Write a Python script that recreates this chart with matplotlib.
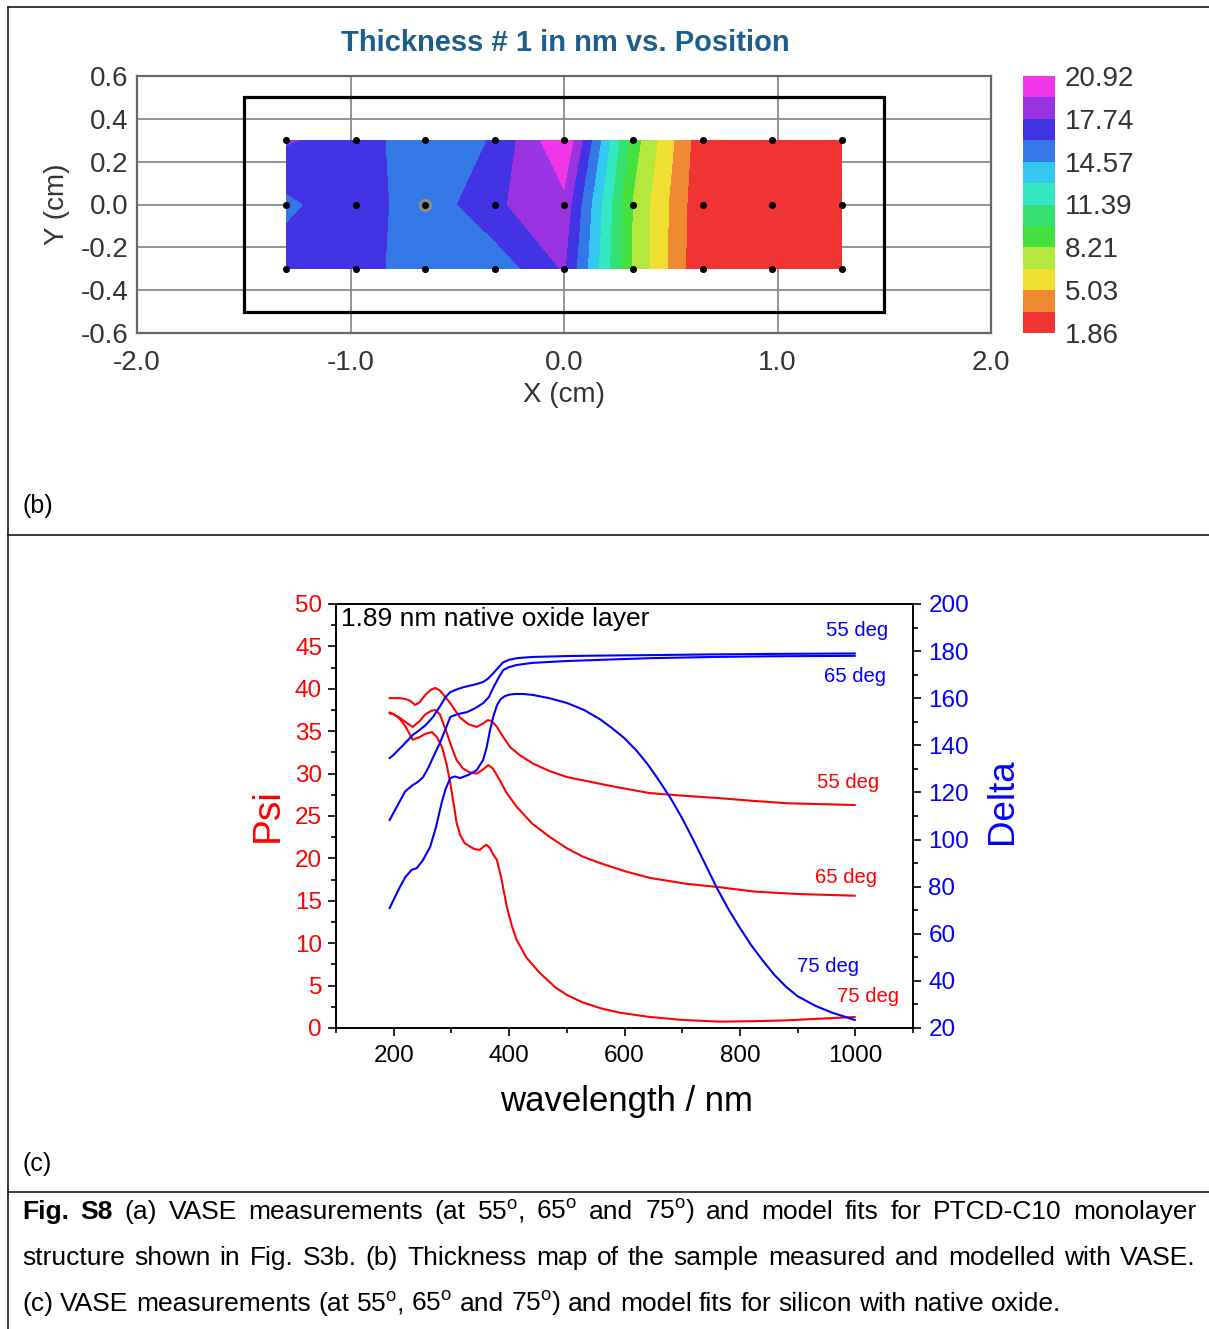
import matplotlib
matplotlib.use("Agg")
import matplotlib.pyplot as plt
import numpy as np
from matplotlib.lines import Line2D
from matplotlib.patches import Rectangle
from matplotlib.ticker import FormatStrFormatter

plt.rcParams['font.family'] = ['Liberation Sans', 'DejaVu Sans']
plt.rcParams['axes.unicode_minus'] = False
plt.rcParams['mathtext.fontset'] = 'custom'
plt.rcParams['mathtext.rm'] = 'Liberation Sans'
plt.rcParams['mathtext.it'] = 'Liberation Sans:italic'
plt.rcParams['mathtext.bf'] = 'Liberation Sans:bold'

W, H = 1209, 1329

# ---- (b) thickness map: 9 x 3 measurement grid (cm), thickness in nm ----
map_x = [-1.3, -0.975, -0.65, -0.325, 0.0, 0.325, 0.65, 0.975, 1.3]
map_y = [-0.3, 0.0, 0.3]
thick_bot = [17.0, 17.0, 15.0, 15.1, 17.9, 8.0, 1.95, 2.0, 2.0]
thick_mid = [15.8, 17.2, 15.0, 17.5, 18.8, 8.0, 2.1, 2.0, 2.0]
thick_top = [17.9, 17.0, 15.0, 16.3, 20.9, 8.9, 2.3, 2.0, 2.0]
sel_col, sel_row = 2, 1
levels = [1.86, 3.45, 5.03, 6.62, 8.21, 9.80, 11.39, 12.98, 14.57, 16.16, 17.74, 19.33, 20.92]
level_colors = ['#f03434', '#f08a32', '#f0e032', '#b4e83c', '#44e040', '#34e070',
                '#34e8c4', '#34c8f0', '#3478e8', '#4234e4', '#9a34e2', '#f036e8']
cbar_ticks = [1.86, 5.03, 8.21, 11.39, 14.57, 17.74, 20.92]
cbar_labels = ['1.86', '5.03', '8.21', '11.39', '14.57', '17.74', '20.92']
map_xticks = [-2.0, -1.0, 0.0, 1.0, 2.0]
map_yticks = [-0.6, -0.4, -0.2, 0.0, 0.2, 0.4, 0.6]

# ---- (c) VASE on Si with native oxide ----
wl_psi55 = [193, 200, 210, 220, 228, 237, 245, 255, 265, 272, 280, 290, 298, 315, 330, 344, 355,
            363, 370, 379, 390, 402, 420, 441, 470, 500, 550, 587, 644, 700, 765, 820, 882, 940, 999]
psi55 = [38.9, 38.9, 38.9, 38.8, 38.6, 38.1, 38.4, 39.3, 39.9, 40.1, 39.8, 39.0, 38.3, 36.6, 35.8,
         35.5, 35.9, 36.3, 36.2, 35.5, 34.3, 33.1, 32.1, 31.2, 30.3, 29.6, 28.9, 28.4, 27.7, 27.4,
         27.1, 26.8, 26.5, 26.4, 26.3]
wl_psi65 = [193, 200, 210, 220, 233, 245, 255, 265, 272, 280, 292, 300, 309, 320, 333, 344, 355, 364,
            372, 384, 395, 413, 440, 471, 500, 528, 560, 600, 644, 708, 765, 823, 900, 999]
psi65 = [37.1, 37.0, 36.6, 36.1, 35.5, 36.2, 37.0, 37.4, 37.5, 37.0, 34.8, 33.2, 31.6, 30.6, 30.1,
         30.0, 30.5, 31.0, 30.6, 29.2, 27.8, 26.1, 24.1, 22.5, 21.2, 20.2, 19.4, 18.5, 17.7, 17.0,
         16.6, 16.1, 15.8, 15.6]
wl_psi75 = [193, 200, 210, 220, 233, 245, 255, 266, 275, 284, 292, 298, 305, 309, 315, 323, 332, 340,
            349, 356, 361, 367, 372, 379, 387, 396, 405, 413, 430, 453, 480, 500, 528, 560, 592, 644,
            700, 765, 820, 881, 940, 999]
psi75 = [37.2, 37.0, 36.5, 35.6, 34.0, 34.3, 34.7, 34.9, 34.3, 33.1, 31.0, 28.9, 26.0, 24.2, 22.8,
         21.8, 21.4, 21.1, 21.0, 21.4, 21.6, 21.2, 20.5, 19.8, 17.5, 14.3, 12.0, 10.4, 8.3, 6.5, 4.8,
         3.9, 3.0, 2.3, 1.8, 1.3, 0.95, 0.75, 0.8, 0.9, 1.1, 1.3]
wl_del55 = [193, 200, 210, 220, 233, 245, 255, 268, 280, 290, 298, 310, 321, 335, 345, 355, 363, 373,
            382, 390, 400, 413, 440, 500, 560, 644, 750, 850, 999]
del55 = [134.6, 136.0, 138.5, 141.0, 144.4, 146.5, 148.5, 152.0, 156.5, 160.5, 162.6, 163.8, 164.7,
         165.5, 166.1, 166.9, 168.2, 170.7, 173.2, 175.3, 176.3, 177.0, 177.5, 177.9, 178.1, 178.3,
         178.6, 178.8, 179.0]
wl_del65 = [193, 200, 210, 220, 233, 242, 251, 260, 270, 280, 290, 298, 310, 327, 340, 355, 365, 373,
            382, 390, 400, 413, 440, 500, 560, 644, 750, 850, 999]
del65 = [108.3, 111.5, 116.0, 120.5, 123.1, 124.5, 126.5, 130.5, 135.8, 141.0, 147.0, 152.0, 153.2,
         154.1, 155.6, 157.9, 160.5, 164.7, 168.8, 172.0, 173.2, 174.1, 175.0, 175.8, 176.3, 177.0,
         177.5, 177.8, 178.0]
wl_del75 = [193, 200, 210, 220, 231, 240, 250, 263, 273, 283, 290, 298, 306, 315, 330, 344, 355, 361,
            367, 373, 379, 385, 392, 400, 410, 425, 441, 470, 500, 530, 558, 580, 600, 620, 640, 660,
            680, 700, 720, 740, 760, 780, 800, 820, 840, 860, 880, 900, 930, 960, 999]
del75 = [70.9, 74.5, 79.5, 84.0, 87.1, 87.9, 91.0, 96.8, 105.0, 115.5, 121.5, 126.1, 126.8, 126.1,
         127.5, 129.5, 133.8, 139.0, 146.5, 152.5, 157.0, 159.5, 160.8, 161.5, 161.8, 161.8, 161.4,
         160.0, 158.0, 155.0, 151.0, 147.0, 143.0, 138.0, 132.0, 125.0, 117.5, 109.0, 99.5, 89.5,
         79.5, 70.5, 62.5, 55.0, 48.5, 42.5, 37.5, 33.5, 29.5, 26.5, 23.4]
# angle labels: (text, wavelength, psi-axis value, colour)
angle_labels = [("55 deg", 1003, 46.9, 'blue'), ("65 deg", 999, 41.4, 'blue'),
                ("55 deg", 987, 28.9, 'red'), ("65 deg", 984, 17.7, 'red'),
                ("75 deg", 953, 7.3, 'blue'), ("75 deg", 1022, 3.7, 'red')]

caption = [
    "Fig. S8 (a) VASE measurements (at 55$^{\\mathrm{o}}$, 65$^{\\mathrm{o}}$ and 75$^{\\mathrm{o}}$) "
    "and model fits for PTCD-C10 monolayer",
    "structure shown in Fig. S3b. (b) Thickness map of the sample measured and modelled with VASE.",
    "(c) VASE measurements (at 55$^{\\mathrm{o}}$, 65$^{\\mathrm{o}}$ and 75$^{\\mathrm{o}}$) "
    "and model fits for silicon with native oxide.",
]


def box(x0, y0, x1, y1):
    return [x0 / W, 1 - y1 / H, (x1 - x0) / W, (y1 - y0) / H]


fig = plt.figure(figsize=(W / 100, H / 100), dpi=100)

# table frame lines
for xs, ys in [([8, 8], [7, H]), ([8, W], [7, 7]), ([8, W], [535, 535]), ([8, W], [1192, 1192])]:
    fig.add_artist(Line2D([x / W for x in xs], [1 - y / H for y in ys],
                          transform=fig.transFigure, color='#1a1a1a', lw=1.2))

# ================= (b) thickness map =================
ax = fig.add_axes(box(137, 76, 991, 333))
Z = np.array([thick_bot, thick_mid, thick_top])
cf = ax.contourf(map_x, map_y, Z, levels=levels, colors=level_colors, zorder=1)
ax.add_patch(Rectangle((-1.5, -0.5), 3.0, 1.0, fill=False, ec='black', lw=2.3, zorder=3))
XX, YY = np.meshgrid(map_x, map_y)
ax.scatter([map_x[sel_col]], [map_y[sel_row]], s=95, c='#8c8c8c', lw=0, zorder=4)
ax.scatter(XX.ravel(), YY.ravel(), s=26, c='black', lw=0, zorder=5)
ax.set_xlim(-2, 2); ax.set_ylim(-0.6, 0.6)
ax.set_xticks(map_xticks); ax.set_yticks(map_yticks)
ax.xaxis.set_major_formatter(FormatStrFormatter('%.1f'))
ax.yaxis.set_major_formatter(FormatStrFormatter('%.1f'))
ax.set_axisbelow(True)
ax.grid(True, color='#8a8a8a', lw=1.3)
for s in ax.spines.values():
    s.set_color('#666666'); s.set_linewidth(1.6)
ax.tick_params(length=0, labelsize=20, labelcolor='#333333')
ax.tick_params(axis='x', pad=12)
ax.tick_params(axis='y', pad=6)
ax.set_xlabel("X (cm)", fontsize=20, color='#333333')
ax.xaxis.set_label_coords(0.5, -0.19)
ax.set_ylabel("Y (cm)", fontsize=20, color='#333333')
ax.yaxis.set_label_coords(-0.078, 0.5)
fig.text(565 / W, 1 - 43 / H, "Thickness # 1 in nm vs. Position", ha='center', va='center',
         fontsize=21, weight='bold', color='#1d5f8c')

cax = fig.add_axes(box(1023, 76, 1055, 333))
cb = fig.colorbar(cf, cax=cax, ticks=cbar_ticks)
cb.ax.set_yticklabels(cbar_labels)
cb.ax.tick_params(length=0, labelsize=20, labelcolor='#333333', pad=7)
cb.outline.set_visible(False)

fig.text(22 / W, 1 - 506 / H, "(b)", ha='left', va='center', fontsize=18)
fig.text(22 / W, 1 - 1164 / H, "(c)", ha='left', va='center', fontsize=18)

# ================= (c) Psi / Delta =================
ax2 = fig.add_axes(box(336, 604, 913, 1028))
lw = 1.5
ax2.plot(wl_psi55, psi55, color='red', lw=lw)
ax2.plot(wl_psi65, psi65, color='red', lw=lw)
ax2.plot(wl_psi75, psi75, color='red', lw=lw)
ax2.set_xlim(100, 1100); ax2.set_ylim(0, 50)
ax2.set_xticks([200, 400, 600, 800, 1000])
ax2.set_xticks([100, 300, 500, 700, 900, 1100], minor=True)
ax2.set_yticks(np.arange(0, 51, 5))
ax2.set_yticks(np.arange(2.5, 50, 5), minor=True)
ax2.tick_params(which='both', direction='out', width=1.2, top=False, labelsize=17.5)
ax2.tick_params(which='major', length=6)
ax2.tick_params(which='minor', length=3.5)
ax2.tick_params(axis='y', labelcolor='red', pad=4)
ax2.tick_params(axis='x', pad=6)
for s in ax2.spines.values():
    s.set_linewidth(1.2)
ax2.set_xlabel("wavelength / nm", fontsize=25)
ax2.xaxis.set_label_coords(0.503, -0.135)
ax2.set_ylabel("Psi", fontsize=28, color='red')
ax2.yaxis.set_label_coords(-0.087, 0.502)
ax2.text(0.009, 0.965, "1.89 nm native oxide layer", transform=ax2.transAxes, ha='left', va='center',
         fontsize=19)
for txt, wl, yv, col in angle_labels:
    ax2.text(wl, yv, txt, color=col, fontsize=14.6, ha='center', va='center')

ax3 = ax2.twinx()
ax3.plot(wl_del55, del55, color='blue', lw=lw)
ax3.plot(wl_del65, del65, color='blue', lw=lw)
ax3.plot(wl_del75, del75, color='blue', lw=lw)
ax3.set_ylim(20, 200)
ax3.set_yticks(np.arange(20, 201, 20))
ax3.set_yticks(np.arange(30, 200, 20), minor=True)
ax3.tick_params(which='both', direction='out', width=1.2, labelsize=17.5, labelcolor='blue', pad=5)
ax3.tick_params(which='major', length=6)
ax3.tick_params(which='minor', length=3.5)
for s in ax3.spines.values():
    s.set_linewidth(1.2)
ax3.set_ylabel("Delta", fontsize=26.5, color='blue')
ax3.yaxis.set_label_coords(1.125, 0.535)

# ================= caption =================
cap_size = 19
renderer = fig.canvas.get_renderer()


def put_line(text, base_px, justify, nbold=0):
    words = text.split(" ")
    arts = [fig.text(0, 1 - base_px / H, w, fontsize=cap_size, va='baseline', ha='left',
                     weight='bold' if i < nbold else 'normal') for i, w in enumerate(words)]
    widths = [a.get_window_extent(renderer).width for a in arts]
    x0, x1 = 22, 1196
    gap = (x1 - x0 - sum(widths)) / (len(words) - 1) if justify else 0.278 * cap_size * 100 / 72
    x = x0
    for a, wd in zip(arts, widths):
        a.set_x(x / W)
        x += wd + gap


put_line(caption[0], 1219, True, nbold=2)
put_line(caption[1], 1265, True)
put_line(caption[2], 1311, False)

fig.savefig("out.png", dpi=100)
